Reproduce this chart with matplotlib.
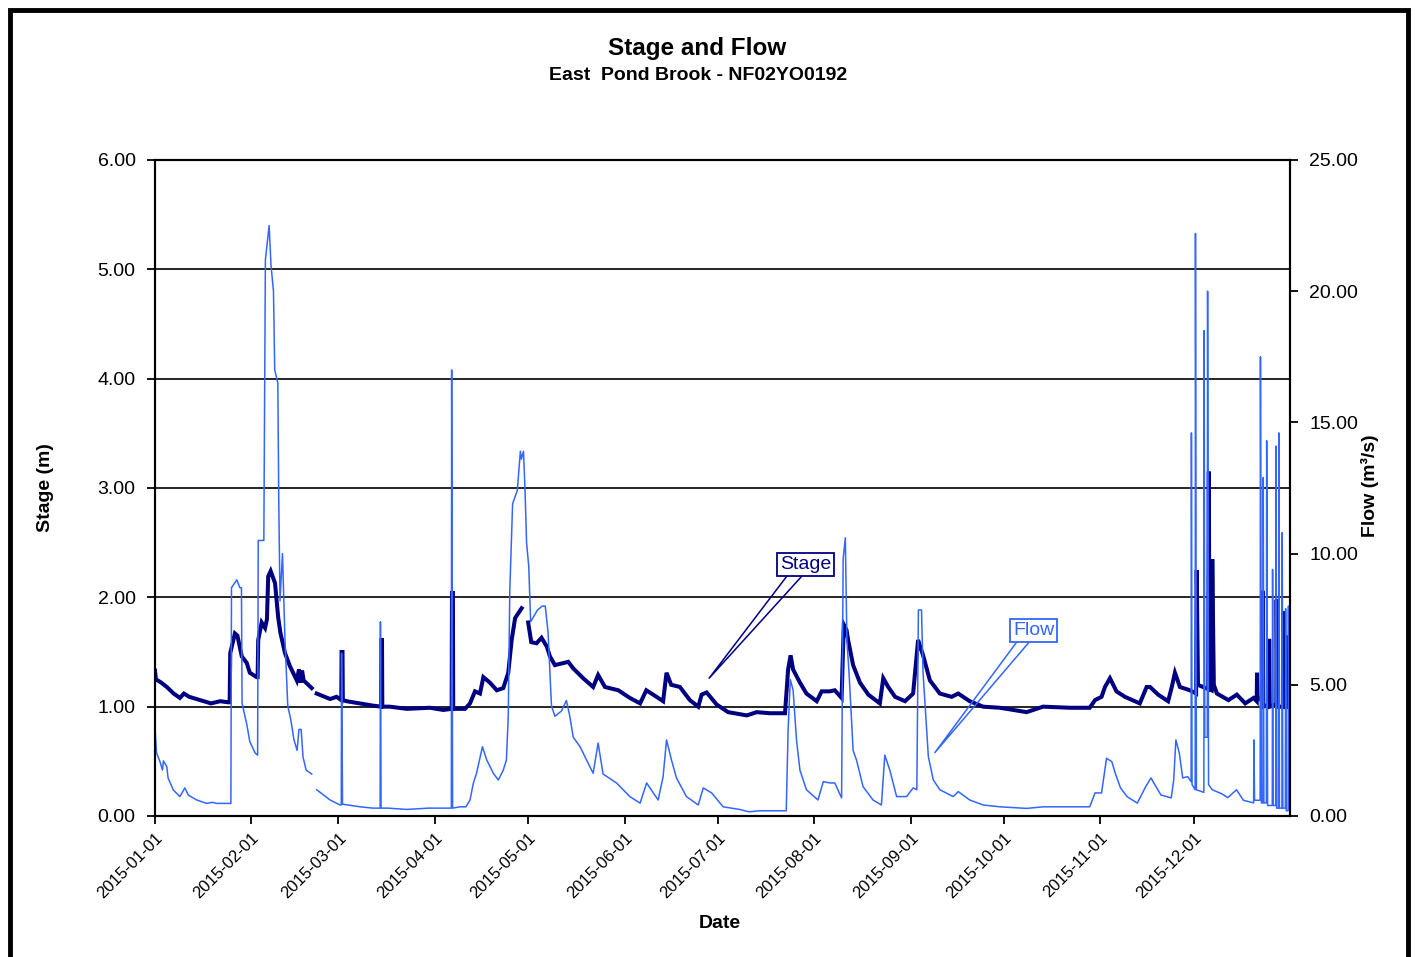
import numpy as np
import pandas as pd
import matplotlib
matplotlib.use("Agg")
import matplotlib.pyplot as plt
import matplotlib.dates as mdates
from matplotlib.patches import Rectangle

plt.rcParams['font.family'] = ['Liberation Sans', 'DejaVu Sans']

# --- data (day of year 2015, value) ---
stage_day = [0.0, 0.3, 2, 3.8, 6, 8, 9.3, 11, 14.5, 18, 21, 23.5, 24.0, 24.2, 25.7, 26.5, 27.9,
             29.5, 30.5, 32.7, 33.0, 33.2, 34.3, 35.4, 36.0, 36.4, 37.2, 38.6, 39.6, 40.3, 41.8,
             43.4, 45.6, 46.3, 46.8, 47.3, 47.8, 50.4, 50.6, 52.0, 56.3, 58.4, 59.9, 60.0, 60.3,
             60.4, 61.6, 65.9, 70, 72.7, 72.8, 73.0, 73.1, 75.5, 81, 88.4, 92.7, 95.4, 95.5, 95.8,
             95.9, 99.7, 101.3, 102.9, 104.5, 105.6, 107.7, 109.9, 112, 113.6, 114.7, 115.8, 117.9,
             118.3, 120.0, 121, 122.7, 124.3, 126, 127, 128.6, 132.9, 134.5, 137.7, 140.9, 142.5,
             144.7, 149, 152.7, 156, 158, 160.2, 163.4, 164.5, 166, 168.8, 172, 174.7, 175.8,
             177.4, 180.6, 184.3, 190.3, 193.5, 197.7, 202.6, 203.6, 204.4, 205.2, 207.4, 209.5,
             212.8, 214.4, 217, 218.6, 220.8, 221.5, 222.4, 222.9, 224.5, 226.7, 229.4, 233.1,
             234.2, 235.8, 238, 241.2, 243.8, 245.4, 247, 249.2, 252.4, 256.2, 258.3, 262, 266.3,
             271.7, 280.3, 285.6, 294.2, 300.6, 302.3, 304.4, 305.5, 307.1, 309.2, 311.9, 316.7,
             318.9, 320, 322.6, 325.8, 326.9, 328, 329.6, 332.8, 334.8, 335.0, 335.4, 337, 338.7,
             338.9, 339.1, 339.8, 340.0, 340.5, 341.5, 345.2, 347.9, 350.6, 353.3, 354.3, 354.4,
             354.6, 356.1, 356.2, 356.4, 358.2, 358.3, 358.5, 360.6, 360.7, 360.9, 362.7, 362.8,
             363.0, 363.8, 363.9, 364.1, 364.8]
stage_val = [1.33, 1.25, 1.22, 1.18, 1.12, 1.08, 1.12, 1.09, 1.06, 1.03, 1.05, 1.04, 1.04, 1.49, 1.67,
             1.65, 1.46, 1.40, 1.31, 1.27, 1.27, 1.61, 1.77, 1.72, 1.80, 2.19, 2.24, 2.13, 1.82, 1.68,
             1.49, 1.37, 1.24, 1.34, 1.22, 1.33, 1.24, 1.17, np.nan, 1.12, 1.07, 1.09, 1.06, 1.50,
             1.50, 1.06, 1.05, 1.03, 1.01, 1.00, 1.61, 1.61, 1.00, 1.00, 0.98, 0.99, 0.97, 0.98,
             2.04, 2.04, 0.98, 0.98, 1.03, 1.14, 1.12, 1.27, 1.22, 1.15, 1.17, 1.31, 1.61, 1.81,
             1.90, np.nan, 1.77, 1.59, 1.58, 1.63, 1.55, 1.46, 1.38, 1.41, 1.35, 1.26, 1.18, 1.29,
             1.18, 1.15, 1.08, 1.03, 1.15, 1.11, 1.05, 1.31, 1.20, 1.18, 1.06, 1.00, 1.11, 1.13,
             1.02, 0.95, 0.92, 0.95, 0.94, 0.94, 1.34, 1.47, 1.34, 1.22, 1.12, 1.05, 1.14, 1.14,
             1.15, 1.08, 1.75, 1.70, 1.61, 1.38, 1.22, 1.11, 1.03, 1.26, 1.18, 1.09, 1.05, 1.12,
             1.61, 1.47, 1.24, 1.12, 1.09, 1.12, 1.05, 1.00, 0.99, 0.95, 1.00, 0.99, 0.99, 1.06,
             1.09, 1.18, 1.26, 1.14, 1.09, 1.03, 1.18, 1.18, 1.11, 1.05, 1.17, 1.31, 1.18, 1.15,
             1.12, 2.25, 1.20, 1.18, 1.16, 3.15, 1.16, 1.15, 2.35, 1.20, 1.12, 1.06, 1.11, 1.03,
             1.08, 1.05, 1.31, 1.09, 1.05, 2.06, 1.00, 1.02, 1.62, 1.00, 1.02, 1.98, 1.00, 1.00,
             1.87, 1.00, 1.00, 1.65, 1.00, 1.00]

flow_day = [0.0, 0.5, 1.6, 2.4, 2.7, 3.8, 4.2, 5.9, 8, 9.6, 10.7, 13.4, 16.6, 18.5, 19.8, 24.4, 24.6,
            26.3, 27.3, 27.8, 28.0, 29.5, 30.5, 32.2, 33.0, 33.2, 35.0, 35.5, 36.7, 37.3, 38.1, 38.5,
            39.5, 39.8, 40.2, 41.0, 41.8, 42.7, 43.7, 44.7, 45.7, 46.3, 47.0, 47.6, 48.6, 50.4, 50.6,
            52.0, 56.3, 59.5, 59.9, 60.0, 60.3, 66, 70, 72.4, 72.5, 72.7, 75, 81, 88, 95.3, 95.4,
            95.7, 98, 100, 101.3, 102.4, 103.4, 105.3, 106.7, 108.8, 110.4, 112, 113, 113.6, 114.1,
            115.0, 116.5, 117.5, 117.8, 118.5, 119.0, 119.5, 120.2, 120.8, 123, 124.5, 125.5, 126.4,
            127.5, 128.6, 130.7, 132.3, 133.4, 134.5, 136.7, 138.8, 140.9, 142.5, 144.1, 148.4,
            152.7, 156, 158.1, 161.8, 163.4, 164.5, 166.1, 167.7, 170.9, 174.7, 176.3, 179, 182.7,
            188, 191, 194.5, 203.0, 203.6, 204.3, 205.2, 206.3, 207.4, 209.5, 213.2, 214.9, 217,
            218.6, 220.8, 221.3, 222.0, 222.5, 223.2, 224.5, 225.6, 227.7, 230.9, 233.6, 234.7,
            236.3, 238.5, 241.7, 243.8, 245.0, 245.5, 246.5, 247, 248.7, 250.3, 252.4, 256.7, 258.3,
            262, 266.3, 271.7, 280.3, 285.6, 300.6, 302.3, 304.4, 306.0, 307.7, 308.8, 310.5, 312.6,
            315.9, 318.6, 320.3, 321.9, 323.5, 326.8, 327.6, 328.3, 329.4, 330.5, 332.1, 333.2,
            333.3, 333.5, 334.5, 334.6, 334.9, 337.3, 337.4, 337.6, 338.4, 338.5, 338.8, 340, 343,
            345, 347.8, 350, 353.3, 353.4, 353.6, 355.4, 355.5, 355.8, 356.3, 356.4, 356.6, 357.4,
            357.5, 357.8, 359.3, 359.4, 359.6, 360.4, 360.5, 360.7, 361.3, 361.4, 361.6, 362.4,
            362.5, 362.7, 363.5, 363.6, 363.8, 364.4, 364.5, 364.8]
flow_val = [3.35, 2.4, 2.07, 1.75, 2.1, 1.88, 1.45, 0.99, 0.74, 1.07, 0.80, 0.61, 0.48, 0.52, 0.48,
            0.48, 8.7, 9.0, 8.7, 8.7, 4.3, 3.5, 2.83, 2.4, 2.32, 10.5, 10.5, 21.2, 22.5, 21.0, 20.0,
            17.0, 16.5, 12.0, 8.2, 10.0, 6.7, 4.2, 3.65, 2.9, 2.5, 3.3, 3.3, 2.25, 1.75, 1.6, np.nan,
            1.0, 0.61, 0.42, 0.42, 6.2, 0.45, 0.35, 0.3, 0.3, 7.4, 0.3, 0.3, 0.25, 0.3, 0.3, 17.0,
            0.3, 0.35, 0.35, 0.61, 1.26, 1.63, 2.64, 2.13, 1.63, 1.37, 1.75, 2.13, 3.78, 8.6, 11.9,
            12.4, 13.9, 13.6, 13.9, 12.4, 10.4, 9.5, 7.4, 7.85, 8.0, 8.0, 7.0, 4.2, 3.8, 4.0, 4.4,
            3.8, 3.0, 2.64, 2.13, 1.63, 2.78, 1.6, 1.26, 0.74, 0.49, 1.26, 0.61, 1.5, 2.9, 2.13,
            1.45, 0.74, 0.42, 1.07, 0.88, 0.35, 0.25, 0.16, 0.2, 0.2, 3.28, 5.2, 4.8, 2.9, 1.75, 1.0,
            0.61, 1.31, 1.26, 1.26, 0.69, 9.8, 10.6, 6.7, 5.45, 2.5, 2.13, 1.12, 0.61, 0.42, 2.32,
            1.75, 0.74, 0.74, 1.07, 1.0, 7.85, 7.85, 5.45, 2.26, 1.37, 1.0, 0.74, 0.93, 0.61, 0.42,
            0.35, 0.29, 0.35, 0.35, 0.88, 0.88, 2.2, 2.07, 1.63, 1.07, 0.74, 0.49, 1.12, 1.45, 1.12,
            0.8, 0.69, 1.37, 2.9, 2.4, 1.45, 1.5, 1.31, 14.6, 1.2, 1.0, 22.2, 1.0, 0.9, 18.5, 3.0,
            3.0, 20.0, 1.2, 1.0, 0.85, 0.7, 1.0, 0.6, 0.5, 2.9, 0.6, 0.6, 17.5, 0.5, 0.5, 12.9, 0.5,
            0.5, 14.3, 0.4, 0.4, 9.4, 0.4, 0.4, 14.1, 0.3, 0.3, 14.6, 0.3, 0.3, 10.8, 0.3, 0.3, 7.9,
            0.2, 0.2, 8.0, 0.3]

start = pd.Timestamp("2015-01-01")
stage_dates = start + pd.to_timedelta(stage_day, unit="D")
flow_dates = start + pd.to_timedelta(flow_day, unit="D")
month_ticks = pd.date_range("2015-01-01", "2015-12-01", freq="MS")

navy = "#000080"
blue = "#3366FF"

fig = plt.figure(figsize=(14.15, 9.57), dpi=100)
ax1 = fig.add_axes([155 / 1415, 1 - 816 / 957, (1290 - 155) / 1415, (816 - 160) / 957])
ax2 = ax1.twinx()

# stage on the left axis
ax1.plot(stage_dates, stage_val, color=navy, lw=2.9, solid_joinstyle="miter")
ax1.set_ylim(0, 6)
ax1.set_yticks(np.arange(0, 6.01, 1))
ax1.yaxis.set_major_formatter(matplotlib.ticker.FormatStrFormatter("%.2f"))
for yv in range(1, 6):
    ax1.axhline(yv, color="black", lw=1.2, zorder=0)

# flow on the right axis
ax2.plot(flow_dates, flow_val, color=blue, lw=1.1)
ax2.set_ylim(0, 25)
ax2.set_yticks(np.arange(0, 25.01, 5))
ax2.yaxis.set_major_formatter(matplotlib.ticker.FormatStrFormatter("%.2f"))

ax1.set_xlim(pd.Timestamp("2015-01-01"), pd.Timestamp("2016-01-01"))
ax1.set_xticks(month_ticks)
ax1.xaxis.set_major_formatter(mdates.DateFormatter("%Y-%m-%d"))
for lab in ax1.get_xticklabels():
    lab.set_rotation(45)
    lab.set_ha("right")
    lab.set_rotation_mode("anchor")

for ax in (ax1, ax2):
    for sp in ax.spines.values():
        sp.set_color("black")
        sp.set_linewidth(1.5)
    ax.tick_params(direction="out", length=6, width=1.3, labelsize=14)
ax1.tick_params(axis="x", labelsize=12, pad=4)
ax1.tick_params(axis="y", pad=8)
ax2.tick_params(axis="y", pad=8)

# labels and titles
fig.text(697 / 1415, 1 - 49 / 957, "Stage and Flow", ha="center", va="center",
         fontsize=17.5, fontweight="bold")
fig.text(698 / 1415, 1 - 75 / 957, "East  Pond Brook - NF02YO0192", ha="center", va="center",
         fontsize=14, fontweight="bold")
fig.text(46 / 1415, 1 - 488 / 957, "Stage (m)", rotation=90, ha="center", va="center",
         fontsize=14, fontweight="bold")
fig.text(1370 / 1415, 1 - 486 / 957, "Flow (m³/s)", rotation=90, ha="center", va="center",
         fontsize=14, fontweight="bold")
fig.text(720 / 1415, 1 - 923 / 957, "Date", ha="center", va="center",
         fontsize=14, fontweight="bold")

# callout labels (drawn in stage units)
def callout(text, color, box_day, box_y, base_days, base_y, tip_day, tip_y):
    bx = start + pd.to_timedelta(base_days, unit="D")
    tx = start + pd.to_timedelta(tip_day, unit="D")
    ax1.plot([bx[0], tx, bx[1]], [base_y, tip_y, base_y], color=color, lw=1.1, zorder=5)
    ax1.text(start + pd.Timedelta(days=box_day), box_y, text, color=color, fontsize=14,
             ha="center", va="center", zorder=6,
             bbox=dict(boxstyle="square,pad=0.15", fc="white", ec=color, lw=1.3))

callout("Stage", navy, 209.3, 2.30, [203.1, 207.9], 2.19, 178.2, 1.26)
callout("Flow", blue, 282.6, 1.70, [277.1, 281.1], 1.59, 250.8, 0.58)

# outer frame
fig.patches.append(Rectangle((10 / 1415, -0.02), 1398 / 1415, 1 - 10 / 957 + 0.02,
                             transform=fig.transFigure, fill=False, ec="black", lw=3.5))

fig.savefig("out.png", dpi=100)
